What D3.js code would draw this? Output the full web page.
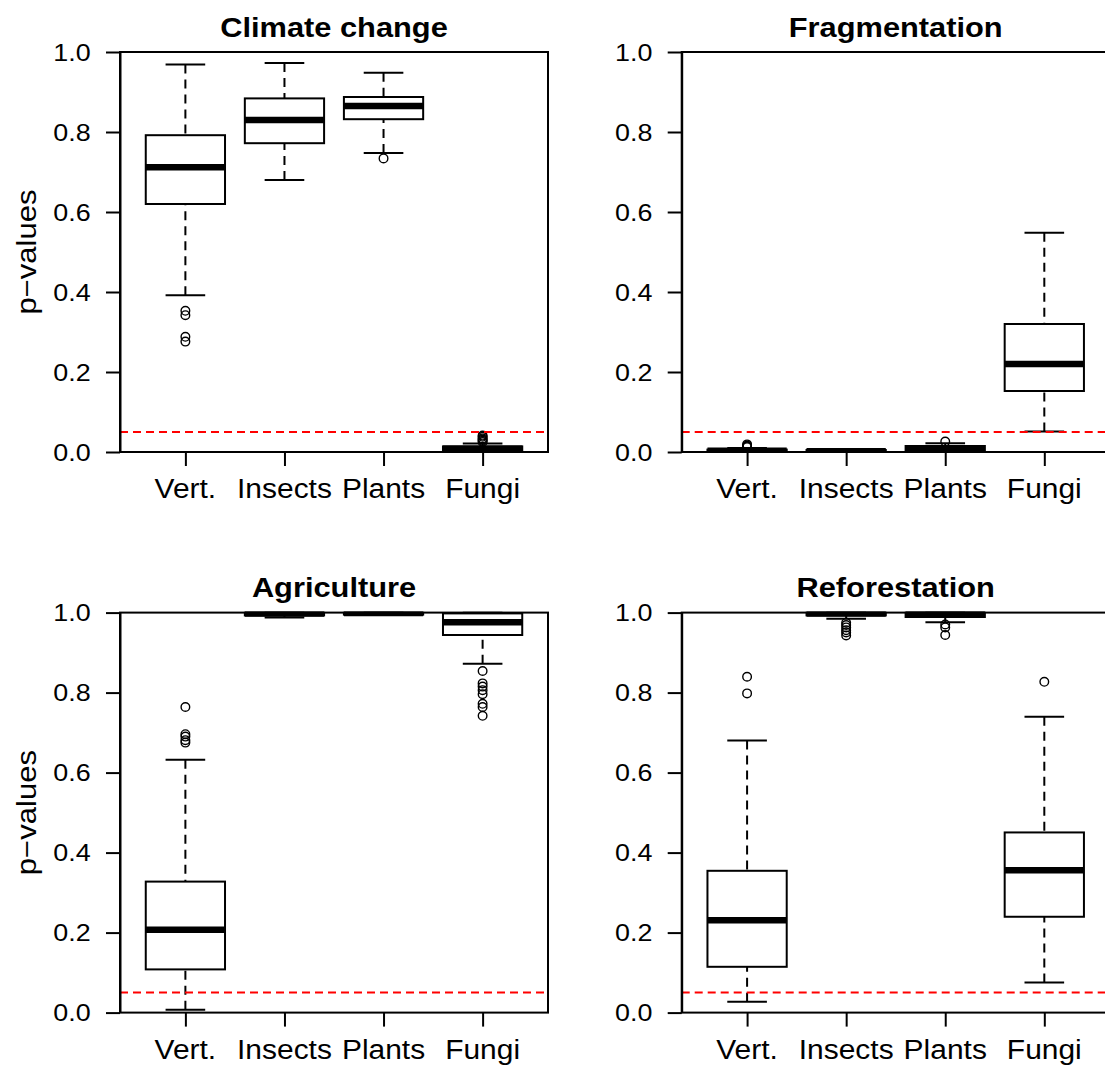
<!DOCTYPE html>
<html>
<head>
<meta charset="utf-8">
<script src="https://cdn.jsdelivr.net/npm/d3@7"></script>
<style>
  html, body { margin: 0; padding: 0; background: #fff; }
  svg { display: block; }
</style>
</head>
<body>
<script>
// ---------------- DATA ----------------
const categories = ["Vert.", "Insects", "Plants", "Fungi"];
const panelTitles = ["Climate change", "Fragmentation", "Agriculture", "Reforestation"];
const yTicks = [0, 0.2, 0.4, 0.6, 0.8, 1.0];
const threshold = 0.05;

// five-number summaries per category: [lower whisker, Q1, median, Q3, upper whisker]
const climateStats = [
  [0.392, 0.620, 0.712, 0.792, 0.969],
  [0.680, 0.772, 0.830, 0.884, 0.9725],
  [0.7475, 0.832, 0.865, 0.8875, 0.948],
  [0.000, 0.003, 0.008, 0.014, 0.021]
];
const climateOutliers = [[0.353, 0.342, 0.288, 0.276], [], [0.734], [0.025, 0.028, 0.031, 0.034, 0.038, 0.041]];

const fragStats = [
  [0.000, 0.001, 0.003, 0.006, 0.010],
  [0.000, 0.001, 0.002, 0.005, 0.007],
  [0.000, 0.003, 0.008, 0.015, 0.022],
  [0.051, 0.1525, 0.220, 0.320, 0.548]
];
const fragOutliers = [[0.012, 0.014, 0.016, 0.019], [], [0.026], []];

const agriStats = [
  [0.007, 0.108, 0.207, 0.3275, 0.632],
  [0.988, 0.993, 0.998, 1.000, 1.000],
  [0.994, 0.995, 0.999, 1.000, 1.000],
  [0.872, 0.944, 0.976, 0.998, 1.000]
];
const agriOutliers = [[0.764, 0.696, 0.690, 0.681, 0.675], [], [], [0.854, 0.823, 0.815, 0.806, 0.796, 0.772, 0.764, 0.742]];

const refoStats = [
  [0.027, 0.1145, 0.231, 0.3545, 0.680],
  [0.9846, 0.993, 0.998, 1.000, 1.000],
  [0.976, 0.989, 0.996, 1.000, 1.000],
  [0.0754, 0.2396, 0.356, 0.4504, 0.7396]
];
const refoOutliers = [[0.8396, 0.798], [0.9746, 0.969, 0.963, 0.956, 0.9505, 0.943], [0.9704, 0.963, 0.944], [0.827]];

const panelStats = [climateStats, fragStats, agriStats, refoStats];
const panelOutliers = [climateOutliers, fragOutliers, agriOutliers, refoOutliers];

// ---------------- LAYOUT ----------------
const W = 1105, H = 1065;
const PW = 428, PH = 400;
const origins = [{x: 120, y: 52}, {x: 681.7, y: 52}, {x: 120, y: 612.6}, {x: 681.7, y: 612.6}];
const FONT = "'Liberation Sans', Arial, Helvetica, sans-serif";

const svg = d3.select("body").append("svg")
  .attr("width", W).attr("height", H)
  .style("background", "#fff");

function label(parent, x, y, txt, size, opts = {}) {
  return parent.append("text")
    .attr("transform", `translate(${x},${y})${opts.rotate ? ` rotate(${opts.rotate})` : ""} scale(${opts.sx || 1.1},1)`)
    .attr("text-anchor", opts.anchor || "middle")
    .attr("dy", opts.dy || 0)
    .attr("font-family", FONT)
    .attr("font-size", size)
    .attr("font-weight", opts.bold ? "bold" : "normal")
    .attr("fill", "#000")
    .text(txt);
}

panelTitles.forEach((title, i) => {
  const o = origins[i];
  const stats = panelStats[i];
  const outs = panelOutliers[i];
  const g = svg.append("g").attr("transform", `translate(${o.x},${o.y})`);

  const x = d3.scaleLinear().domain([0.34, 4.66]).range([0, PW]);
  const y = d3.scaleLinear().domain([0, 1]).range([PH, 0]);
  const hw = x(1.4) - x(1);   // half box width (box = 0.8 units)
  const sw = hw / 2;          // half staple width

  const clipId = "clip" + i;
  g.append("clipPath").attr("id", clipId)
    .append("rect").attr("x", -1).attr("y", -1).attr("width", PW + 2).attr("height", PH + 2);
  const plot = g.append("g").attr("clip-path", `url(#${clipId})`);

  stats.forEach((s, j) => {
    const cx = x(j + 1);
    const b = plot.append("g");
    // whiskers (dashed, drawn from whisker end toward the box)
    b.append("line").attr("x1", cx).attr("x2", cx).attr("y1", y(s[4])).attr("y2", y(s[3]))
      .attr("stroke", "#000").attr("stroke-width", 2).attr("stroke-dasharray", "9,6");
    b.append("line").attr("x1", cx).attr("x2", cx).attr("y1", y(s[0])).attr("y2", y(s[1]))
      .attr("stroke", "#000").attr("stroke-width", 2).attr("stroke-dasharray", "9,6");
    // staples
    [s[0], s[4]].forEach(v => {
      b.append("line").attr("x1", cx - sw).attr("x2", cx + sw).attr("y1", y(v)).attr("y2", y(v))
        .attr("stroke", "#000").attr("stroke-width", 2);
    });
    // box
    b.append("rect").attr("x", cx - hw).attr("y", y(s[3]))
      .attr("width", 2 * hw).attr("height", y(s[1]) - y(s[3]))
      .attr("fill", "none").attr("stroke", "#000").attr("stroke-width", 2);
    // median
    b.append("line").attr("x1", cx - hw).attr("x2", cx + hw).attr("y1", y(s[2])).attr("y2", y(s[2]))
      .attr("stroke", "#000").attr("stroke-width", 6.5);
    // outliers
    b.selectAll("circle.o").data(outs[j]).enter().append("circle")
      .attr("class", "o").attr("cx", cx).attr("cy", d => y(d)).attr("r", 4.3)
      .attr("fill", "none").attr("stroke", "#000").attr("stroke-width", 1.4);
  });

  // significance threshold line
  plot.append("line").attr("x1", 0).attr("x2", PW).attr("y1", y(threshold)).attr("y2", y(threshold))
    .attr("stroke", "#ff0000").attr("stroke-width", 2).attr("stroke-dasharray", "8,5");

  // frame
  g.append("rect").attr("x", 0).attr("y", 0).attr("width", PW).attr("height", PH)
    .attr("fill", "none").attr("stroke", "#000").attr("stroke-width", 2);

  // y axis
  const ya = g.append("g").call(d3.axisLeft(y).tickValues(yTicks).tickSize(14).tickSizeOuter(0).tickFormat(""));
  ya.selectAll("path, line").attr("stroke", "#000").attr("stroke-width", 2);
  yTicks.forEach(t => label(g, -29.3, y(t), d3.format(".1f")(t), 24, {anchor: "end", dy: "0.36em", sx: 1.12}));

  // x axis
  const xa = g.append("g").attr("transform", `translate(0,${PH})`)
    .call(d3.axisBottom(x).tickValues([1, 2, 3, 4]).tickSize(14).tickSizeOuter(0).tickFormat(""));
  xa.select("path").remove();
  xa.selectAll("line").attr("stroke", "#000").attr("stroke-width", 2);
  categories.forEach((c, j) => label(g, x(j + 1), PH + 46, c, 28, {sx: 1.07}));

  // title
  label(g, PW / 2, -15.3, title, 28, {bold: true, sx: 1.1});

  // y label on left panels
  if (i % 2 === 0) {
    label(svg, 36, o.y + PH / 2, "p\u2212values", 27, {rotate: -90, sx: 1.15});
  }
});
</script>
</body>
</html>
